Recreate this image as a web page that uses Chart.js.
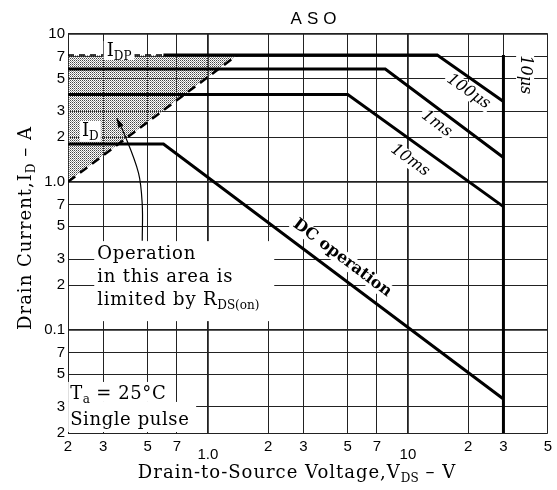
<!DOCTYPE html>
<html>
<head>
<meta charset="utf-8">
<script src="https://cdn.jsdelivr.net/npm/chart.js@4.4.1/dist/chart.umd.min.js"></script>
<style>
  body { margin: 0; background: #fff; }
  #wrap { width: 557px; height: 490px; }
</style>
</head>
<body>
<div id="wrap"><canvas id="asoChart" width="557" height="490"></canvas></div>
<script>
// ticks and labels
const xTicks = [0.2, 0.3, 0.5, 0.7, 1, 2, 3, 5, 7, 10, 20, 30, 50];
const xTickLabels = ['2', '3', '5', '7', '1.0', '2', '3', '5', '7', '10', '2', '3', '5'];
const yTicks = [0.02, 0.03, 0.05, 0.07, 0.1, 0.2, 0.3, 0.5, 0.7, 1, 2, 3, 5, 7, 10];
const yTickLabels = ['2', '3', '5', '7', '0.1', '2', '3', '5', '7', '1.0', '2', '3', '5', '7', '10'];

// limit lines, V_DS (V) / I_D (A)
const dcV = [0.2, 0.6, 30];
const dcI = [1.8, 1.8, 0.034];
const ms10V = [0.2, 5, 30];
const ms10I = [3.9, 3.9, 0.68];
const ms1V = [0.2, 7.7, 30];
const ms1I = [5.8, 5.8, 1.46];
const us100V = [0.6, 14, 30];
const us100I = [7.2, 7.2, 3.5];
const us10V = [30, 30];
const us10I = [7.2, 0.02];
const idpV = [0.2, 0.6];
const idpI = [7.2, 7.2];
const rdsV = [0.2, 1.4];
const rdsI = [1.0, 7.2];
const arrowV = [0.47, 0.47, 0.45, 0.38, 0.35];
const arrowI = [0.4, 0.7, 1.15, 2.15, 2.7];

const serif = '"DejaVu Serif", "Liberation Serif", serif';
const sans = '"Liberation Sans", Arial, sans-serif';

function pts(vs, is) {
    return vs.map((v, i) => ({ x: v, y: is[i] }));
}

// dotted shading for the R_DS(on) area (transparent so the grid shows)
function makeDots() {
    const c = document.createElement('canvas');
    c.width = 2; c.height = 2;
    const g = c.getContext('2d');
    g.fillStyle = '#444444';
    g.fillRect(0, 0, 1, 1);
    g.fillStyle = '#999999';
    g.fillRect(1, 1, 1, 1);
    return g.createPattern(c, 'repeat');
}

function thick(data, extra) {
    return Object.assign({
        data: data,
        borderColor: '#000',
        borderWidth: 3,
        pointRadius: 0,
        fill: false,
        tension: 0
    }, extra || {});
}

// text with subscripts: parts = [[text, isSub], ...]
let spacing = 0;
function setFont(ctx, size, sub) {
    ctx.font = (sub ? Math.round(size * 0.68) : size) + 'px ' + serif;
    ctx.letterSpacing = (sub ? 0 : spacing) + 'px';
}
function richWidth(ctx, parts, size) {
    let w = 0;
    parts.forEach(p => {
        setFont(ctx, size, p[1]);
        w += ctx.measureText(p[0]).width;
    });
    return w;
}
function drawRich(ctx, parts, x, y, size, align) {
    let cx = align === 'center' ? x - richWidth(ctx, parts, size) / 2 : x;
    ctx.textAlign = 'left';
    ctx.textBaseline = 'alphabetic';
    parts.forEach(p => {
        setFont(ctx, size, p[1]);
        ctx.fillText(p[0], cx, p[1] ? y + 4 : y);
        cx += ctx.measureText(p[0]).width;
    });
    ctx.letterSpacing = '0px';
}
function whiteBox(ctx, x, y, w, h) {
    ctx.fillStyle = '#fff';
    ctx.fillRect(x, y, w, h);
    ctx.fillStyle = '#000';
}

const annotate = {
    id: 'annotate',
    afterDatasetsDraw(chart) {
        const ctx = chart.ctx;
        const sx = chart.scales.x, sy = chart.scales.y;
        const X = v => sx.getPixelForValue(v);
        const Y = v => sy.getPixelForValue(v);
        ctx.save();
        ctx.fillStyle = '#000';

        // arrow head
        const n = arrowV.length;
        const hx = X(arrowV[n - 1]), hy = Y(arrowI[n - 1]);
        const a = Math.atan2(hy - Y(arrowI[n - 2]), hx - X(arrowV[n - 2]));
        ctx.beginPath();
        ctx.moveTo(hx, hy);
        ctx.lineTo(hx - 10 * Math.cos(a - 0.3), hy - 10 * Math.sin(a - 0.3));
        ctx.lineTo(hx - 10 * Math.cos(a + 0.3), hy - 10 * Math.sin(a + 0.3));
        ctx.closePath();
        ctx.fill();

        // I_DP / I_D labels
        spacing = 0;
        let px = X(0.36), py = Y(7.2);
        let w = richWidth(ctx, [['I', 0], ['DP', 1]], 18);
        whiteBox(ctx, px - w / 2 - 3, py - 14, w + 6, 19);
        drawRich(ctx, [['I', 0], ['DP', 1]], px, py + 1, 18, 'center');

        px = X(0.235); py = Y(2.05);
        w = richWidth(ctx, [['I', 0], ['D', 1]], 18);
        whiteBox(ctx, px - 2, py - 15, w + 4, 21);
        drawRich(ctx, [['I', 0], ['D', 1]], px, py, 18, 'left');

        // R_DS(on) note
        spacing = 0.8;
        px = X(0.28); py = Y(0.3);
        whiteBox(ctx, px - 3, py - 18, 180, 80);
        drawRich(ctx, [['Operation', 0]], px, py, 18, 'left');
        drawRich(ctx, [['in this area is', 0]], px, py + 23, 18, 'left');
        drawRich(ctx, [['limited by R', 0], ['DS(on)', 1]], px, py + 46, 18, 'left');

        // conditions
        spacing = 0.6;
        px = X(0.205); py = Y(0.034);
        whiteBox(ctx, px - 2, py - 17, 100, 20);
        whiteBox(ctx, px - 2, py + 3, 128, Y(0.02) - py - 4);
        drawRich(ctx, [['T', 0], ['a', 1], [' = 25°C', 0]], px, py, 18, 'left');
        drawRich(ctx, [['Single pulse', 0]], px, py + 26, 18, 'left');

        // labels along the limit lines
        function lineLabel(vs, is, xv, off, text, font) {
            let i = 0;
            while (i < vs.length - 2 && xv > vs[i + 1]) i++;
            const x0 = X(vs[i]), y0 = Y(is[i]), x1 = X(vs[i + 1]), y1 = Y(is[i + 1]);
            const t = (X(xv) - x0) / (x1 - x0);
            const lx = X(xv), ly = y0 + t * (y1 - y0);
            const th = Math.atan2(y1 - y0, x1 - x0);
            ctx.save();
            ctx.translate(lx - off * Math.sin(th), ly + off * Math.cos(th));
            ctx.rotate(th);
            ctx.font = font;
            const tw = ctx.measureText(text).width;
            whiteBox(ctx, -tw / 2 - 2, -8, tw + 4, 16);
            ctx.textAlign = 'center';
            ctx.textBaseline = 'middle';
            ctx.fillText(text, 0, 0);
            ctx.restore();
        }
        lineLabel(dcV, dcI, 4.2, -16, 'DC operation', 'bold 16px ' + serif);
        lineLabel(ms10V, ms10I, 11.5, 17, '10ms', 'italic 16px ' + serif);
        lineLabel(ms1V, ms1I, 15.2, 13, '1ms', 'italic 16px ' + serif);
        lineLabel(us100V, us100I, 21.7, 12, '100μs', 'italic 16px ' + serif);

        // 10us, vertical
        ctx.save();
        ctx.translate(X(38.5), Y(5.3));
        ctx.rotate(Math.PI / 2);
        ctx.font = 'italic 16px ' + serif;
        w = ctx.measureText('10μs').width;
        whiteBox(ctx, -w / 2 - 2, -9, w + 4, 18);
        ctx.textAlign = 'center';
        ctx.textBaseline = 'middle';
        ctx.fillText('10μs', 0, 0);
        ctx.restore();

        // title and axis titles
        ctx.font = '17px ' + sans;
        ctx.textAlign = 'center';
        ctx.textBaseline = 'alphabetic';
        ctx.letterSpacing = '5px';
        ctx.fillText('ASO', 316, 24);
        ctx.letterSpacing = '0px';

        spacing = 1;
        drawRich(ctx, [['Drain-to-Source Voltage,V', 0], ['DS', 1], [' \u2013 V', 0]], 297, 478, 18, 'center');

        ctx.translate(31, 228);
        ctx.rotate(-Math.PI / 2);
        drawRich(ctx, [['Drain Current,I', 0], ['D', 1], [' \u2013 A', 0]], 0, 0, 18, 'center');
        ctx.restore();
    }
};

// the first dataset is drawn last, so the shaded area goes at the end
const data = {
    datasets: [
        thick(pts(dcV, dcI)),
        thick(pts(ms10V, ms10I)),
        thick(pts(ms1V, ms1I)),
        thick(pts(us100V, us100I)),
        thick(pts(us10V, us10I)),
        thick(pts(idpV, idpI), { borderWidth: 1.5, borderDash: [6, 5] }),
        thick(pts(arrowV, arrowI), { borderWidth: 1.2, tension: 0.35 }),
        thick(pts(rdsV, rdsI), { borderWidth: 2.5, borderDash: [9, 6], fill: { value: 7.2 }, backgroundColor: makeDots() })
    ]
};

const isDecade = v => [0.1, 1, 10].includes(v);

const config = {
    type: 'line',
    data: data,
    options: {
        responsive: false,
        animation: false,
        layout: { padding: { top: 34, right: 7, left: 0, bottom: 0 } },
        plugins: { legend: { display: false }, tooltip: { enabled: false } },
        scales: {
            x: {
                type: 'logarithmic',
                min: 0.2,
                max: 50,
                afterBuildTicks: s => { s.ticks = xTicks.map(v => ({ value: v })); },
                afterFit: s => { s.height = 57; },
                grid: {
                    color: '#222',
                    lineWidth: c => (c.tick && isDecade(c.tick.value)) ? 1.8 : 1,
                    drawTicks: false
                },
                border: { display: false },
                ticks: {
                    autoSkip: false,
                    maxRotation: 0,
                    padding: 5,
                    color: '#000',
                    font: c => ({ family: sans, size: 15, lineHeight: (c.tick && (c.tick.value === 1 || c.tick.value === 10)) ? 0.75 : 1.2 }),
                    callback: (v, i) => (v === 1 || v === 10) ? ['', xTickLabels[i]] : xTickLabels[i]
                }
            },
            y: {
                type: 'logarithmic',
                min: 0.02,
                max: 10,
                afterBuildTicks: s => { s.ticks = yTicks.map(v => ({ value: v })); },
                afterFit: s => { s.width = 68; },
                grid: {
                    color: '#222',
                    lineWidth: c => (c.tick && isDecade(c.tick.value)) ? 1.8 : 1,
                    drawTicks: false
                },
                border: { display: false },
                ticks: {
                    autoSkip: false,
                    padding: 3,
                    color: '#000',
                    font: { family: sans, size: 15 },
                    callback: (v, i) => yTickLabels[i]
                }
            }
        }
    },
    plugins: [annotate]
};

const ctx = document.getElementById('asoChart').getContext('2d');
new Chart(ctx, config);
</script>
</body>
</html>
